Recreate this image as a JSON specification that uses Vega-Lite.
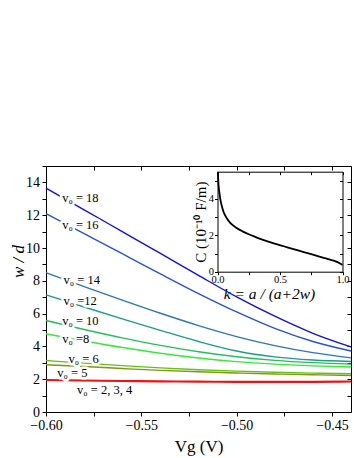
{
  "$schema": "https://vega.github.io/schema/vega-lite/v6.json",
  "width": 305,
  "height": 246,
  "autosize": {"type": "none"},
  "padding": {"left": 46, "top": 166, "right": 3, "bottom": 46},
  "config": {
    "font": "Liberation Serif",
    "view": {"stroke": null},
    "axis": {"domainColor": "black", "tickColor": "black", "labelColor": "black", "titleColor": "black", "titleFontWeight": "normal", "grid": false, "domainWidth": 1, "tickWidth": 1, "labelOverlap": false}
  },
  "datasets": {
    "main": [
      {"series": "v18", "v": -0.60, "w": 13.65}, {"series": "v18", "v": -0.58, "w": 12.33}, {"series": "v18", "v": -0.56, "w": 11.0}, {"series": "v18", "v": -0.54, "w": 9.67}, {"series": "v18", "v": -0.52, "w": 8.33}, {"series": "v18", "v": -0.50, "w": 7.02}, {"series": "v18", "v": -0.48, "w": 5.84}, {"series": "v18", "v": -0.46, "w": 4.8}, {"series": "v18", "v": -0.44, "w": 3.97},
      {"series": "v16", "v": -0.60, "w": 12.1}, {"series": "v16", "v": -0.58, "w": 10.88}, {"series": "v16", "v": -0.56, "w": 9.65}, {"series": "v16", "v": -0.54, "w": 8.42}, {"series": "v16", "v": -0.52, "w": 7.22}, {"series": "v16", "v": -0.50, "w": 6.1}, {"series": "v16", "v": -0.48, "w": 5.1}, {"series": "v16", "v": -0.46, "w": 4.3}, {"series": "v16", "v": -0.44, "w": 3.72},
      {"series": "v14", "v": -0.60, "w": 8.5}, {"series": "v14", "v": -0.58, "w": 7.65}, {"series": "v14", "v": -0.56, "w": 6.82}, {"series": "v14", "v": -0.54, "w": 6.02}, {"series": "v14", "v": -0.52, "w": 5.27}, {"series": "v14", "v": -0.50, "w": 4.6}, {"series": "v14", "v": -0.48, "w": 4.05}, {"series": "v14", "v": -0.46, "w": 3.62}, {"series": "v14", "v": -0.44, "w": 3.3},
      {"series": "v12", "v": -0.60, "w": 7.14}, {"series": "v12", "v": -0.58, "w": 6.4}, {"series": "v12", "v": -0.56, "w": 5.68}, {"series": "v12", "v": -0.54, "w": 4.98}, {"series": "v12", "v": -0.52, "w": 4.3}, {"series": "v12", "v": -0.50, "w": 3.72}, {"series": "v12", "v": -0.48, "w": 3.36}, {"series": "v12", "v": -0.46, "w": 3.17}, {"series": "v12", "v": -0.44, "w": 3.08},
      {"series": "v10", "v": -0.60, "w": 5.58}, {"series": "v10", "v": -0.58, "w": 5.03}, {"series": "v10", "v": -0.56, "w": 4.52}, {"series": "v10", "v": -0.54, "w": 4.06}, {"series": "v10", "v": -0.52, "w": 3.67}, {"series": "v10", "v": -0.50, "w": 3.37}, {"series": "v10", "v": -0.48, "w": 3.15}, {"series": "v10", "v": -0.46, "w": 3.01}, {"series": "v10", "v": -0.44, "w": 2.92},
      {"series": "v8", "v": -0.60, "w": 4.77}, {"series": "v8", "v": -0.58, "w": 4.33}, {"series": "v8", "v": -0.56, "w": 3.93}, {"series": "v8", "v": -0.54, "w": 3.58}, {"series": "v8", "v": -0.52, "w": 3.29}, {"series": "v8", "v": -0.50, "w": 3.07}, {"series": "v8", "v": -0.48, "w": 2.92}, {"series": "v8", "v": -0.46, "w": 2.81}, {"series": "v8", "v": -0.44, "w": 2.74},
      {"series": "v6", "v": -0.60, "w": 3.14}, {"series": "v6", "v": -0.58, "w": 2.98}, {"series": "v6", "v": -0.56, "w": 2.83}, {"series": "v6", "v": -0.54, "w": 2.69}, {"series": "v6", "v": -0.52, "w": 2.58}, {"series": "v6", "v": -0.50, "w": 2.49}, {"series": "v6", "v": -0.48, "w": 2.42}, {"series": "v6", "v": -0.46, "w": 2.37}, {"series": "v6", "v": -0.44, "w": 2.33},
      {"series": "v5", "v": -0.60, "w": 2.88}, {"series": "v5", "v": -0.58, "w": 2.77}, {"series": "v5", "v": -0.56, "w": 2.65}, {"series": "v5", "v": -0.54, "w": 2.54}, {"series": "v5", "v": -0.52, "w": 2.45}, {"series": "v5", "v": -0.50, "w": 2.38}, {"series": "v5", "v": -0.48, "w": 2.32}, {"series": "v5", "v": -0.46, "w": 2.27}, {"series": "v5", "v": -0.44, "w": 2.23},
      {"series": "v2", "v": -0.60, "w": 1.95}, {"series": "v2", "v": -0.58, "w": 1.92}, {"series": "v2", "v": -0.56, "w": 1.89}, {"series": "v2", "v": -0.54, "w": 1.87}, {"series": "v2", "v": -0.52, "w": 1.85}, {"series": "v2", "v": -0.50, "w": 1.84}, {"series": "v2", "v": -0.48, "w": 1.84}, {"series": "v2", "v": -0.46, "w": 1.84}, {"series": "v2", "v": -0.44, "w": 1.86}
    ],
    "labels": [
      {"label": "v₀ = 18", "v": -0.5915, "w": 13.04},
      {"label": "v₀ = 16", "v": -0.5915, "w": 11.4},
      {"label": "v₀ = 14", "v": -0.5908, "w": 8.05},
      {"label": "v₀ =12", "v": -0.5908, "w": 6.77},
      {"label": "v₀ = 10", "v": -0.5915, "w": 5.53},
      {"label": "v₀ =8", "v": -0.5915, "w": 4.43},
      {"label": "v₀ = 6", "v": -0.5882, "w": 3.24},
      {"label": "v₀ = 5", "v": -0.5941, "w": 2.39},
      {"label": "v₀ = 2, 3, 4", "v": -0.5837, "w": 1.36}
    ],
    "inset": [
      {"k": 0.003, "C": 5.5}, {"k": 0.006, "C": 5.0}, {"k": 0.01, "C": 4.65}, {"k": 0.016, "C": 4.3}, {"k": 0.025, "C": 3.9}, {"k": 0.035, "C": 3.6}, {"k": 0.048, "C": 3.3}, {"k": 0.065, "C": 3.05}, {"k": 0.08, "C": 2.88}, {"k": 0.1, "C": 2.7}, {"k": 0.15, "C": 2.42}, {"k": 0.2, "C": 2.22}, {"k": 0.25, "C": 2.06}, {"k": 0.3, "C": 1.92}, {"k": 0.37, "C": 1.74}, {"k": 0.45, "C": 1.56}, {"k": 0.53, "C": 1.4}, {"k": 0.6, "C": 1.26}, {"k": 0.69, "C": 1.08}, {"k": 0.77, "C": 0.92}, {"k": 0.85, "C": 0.76}, {"k": 0.9, "C": 0.66}, {"k": 0.95, "C": 0.55}, {"k": 0.98, "C": 0.45}, {"k": 1.0, "C": 0.37}
    ]
  },
  "layer": [
    {
      "layer": [
        {
          "data": {"name": "main"},
          "mark": {"type": "line", "interpolate": "monotone"},
          "encoding": {
            "x": {"field": "v", "type": "quantitative", "scale": {"domain": [-0.6, -0.44], "nice": false, "zero": false},
              "axis": {"orient": "bottom", "values": [-0.6, -0.575, -0.55, -0.525, -0.5, -0.475, -0.45], "tickCount": 20, "format": ".2f", "labelExpr": "abs(round(datum.value*1000)) % 50 == 0 ? datum.label : ''", "labelFontSize": 14, "tickSize": 4, "labelPadding": 2, "labelFlush": false, "labelOverlap": false, "title": "Vg (V)", "titleFontSize": 17, "titleX": 152.5, "titleY": 34, "titleBaseline": "middle", "titleAlign": "center"}},
            "y": {"field": "w", "type": "quantitative", "scale": {"domain": [0, 15], "nice": false},
              "axis": {"orient": "left", "values": [0, 1, 2, 3, 4, 5, 6, 7, 8, 9, 10, 11, 12, 13, 14, 15], "tickCount": 20, "format": "d", "labelExpr": "datum.value % 2 == 0 ? datum.label : ''", "labelFontSize": 14, "tickSize": 4, "labelPadding": 2.5, "labelOverlap": false, "title": "w / d", "titleFontStyle": "italic", "titleFontSize": 17, "titleX": -28, "titleY": 95, "titleAngle": -90, "titleBaseline": "middle", "titleAlign": "center"}},
            "color": {"field": "series", "type": "nominal", "legend": null,
              "scale": {"domain": ["v18", "v16", "v14", "v12", "v10", "v8", "v6", "v5", "v2"], "range": ["#1010ee", "#2852d8", "#2a78b8", "#1a9e88", "#22c05a", "#33ec33", "#62c410", "#7a9a10", "#f41010"]}},
            "strokeWidth": {"condition": {"test": "datum.series === 'v2'", "value": 2.2}, "value": 1.4}
          }
        },
        {
          "data": {"name": "labels"},
          "mark": {"type": "text", "align": "left", "baseline": "middle", "fontSize": 12.5, "stroke": "white", "strokeWidth": 5, "strokeJoin": "round"},
          "encoding": {"x": {"field": "v", "type": "quantitative"}, "y": {"field": "w", "type": "quantitative"}, "text": {"field": "label"}}
        },
        {
          "data": {"name": "labels"},
          "mark": {"type": "text", "align": "left", "baseline": "middle", "fontSize": 12.5, "color": "black"},
          "encoding": {"x": {"field": "v", "type": "quantitative"}, "y": {"field": "w", "type": "quantitative"}, "text": {"field": "label"}}
        }
      ]
    },
    {
      "data": {"name": "main"},
      "mark": {"type": "point", "opacity": 0},
      "encoding": {
        "x": {"field": "v", "type": "quantitative", "scale": {"domain": [-0.6, -0.44], "nice": false, "zero": false},
          "axis": {"orient": "top", "values": [-0.6, -0.575, -0.55, -0.525, -0.5, -0.475, -0.45], "tickCount": 20, "labels": false, "tickSize": -4, "title": null}},
        "y": {"field": "w", "type": "quantitative", "scale": {"domain": [0, 15], "nice": false},
          "axis": {"orient": "right", "values": [0, 1, 2, 3, 4, 5, 6, 7, 8, 9, 10, 11, 12, 13, 14, 15], "tickCount": 20, "labels": false, "tickSize": -4, "title": null}}
      }
    },
    {
      "data": {"name": "inset"},
      "mark": {"type": "line", "color": "black", "strokeWidth": 1.8, "interpolate": "monotone"},
      "encoding": {
        "x": {"field": "k", "type": "quantitative", "scale": {"domain": [0, 1], "range": [171.5, 296.5], "nice": false, "zero": false},
          "axis": {"orient": "bottom", "offset": -140.3, "values": [0, 0.25, 0.5, 0.75, 1], "tickCount": 20, "format": ".1f", "labelExpr": "round(datum.value*100) % 50 == 0 ? datum.label : ''", "labelFontSize": 10.5, "tickSize": 3, "labelPadding": 0, "labelFlush": false, "labelOverlap": false, "title": "k = a / (a+2w)", "titleFontStyle": "italic", "titleFontSize": 15.5, "titleX": 223, "titleY": 21.5, "titleBaseline": "middle", "titleAlign": "center"}},
        "y": {"field": "C", "type": "quantitative", "scale": {"domain": [0, 5.5], "range": [105.7, 5.7], "nice": false},
          "axis": {"orient": "left", "offset": -171.5, "values": [0, 1, 2, 3, 4, 5], "tickCount": 20, "format": "d", "labelExpr": "datum.value % 2 == 0 ? datum.label : ''", "labelFontSize": 10.5, "tickSize": 3, "labelPadding": 1, "labelOverlap": false, "title": "C (10⁻¹⁰ F/m)", "titleFontSize": 15, "titleX": -17.5, "titleY": 55.7, "titleAngle": -90, "titleBaseline": "middle", "titleAlign": "center"}}
      }
    },
    {
      "data": {"name": "inset"},
      "mark": {"type": "point", "opacity": 0},
      "encoding": {
        "x": {"field": "k", "type": "quantitative", "scale": {"domain": [0, 1], "range": [171.5, 296.5], "nice": false, "zero": false},
          "axis": {"orient": "top", "offset": -5.7, "values": [0, 0.25, 0.5, 0.75, 1], "tickCount": 20, "labels": false, "tickSize": -3, "title": null}},
        "y": {"field": "C", "type": "quantitative", "scale": {"domain": [0, 5.5], "range": [105.7, 5.7], "nice": false},
          "axis": {"orient": "right", "offset": -8.5, "values": [0, 1, 2, 3, 4, 5], "tickCount": 20, "labels": false, "tickSize": -3, "title": null}}
      }
    }
  ],
  "resolve": {
    "scale": {"x": "independent", "y": "independent"},
    "axis": {"x": "independent", "y": "independent"}
  }
}
